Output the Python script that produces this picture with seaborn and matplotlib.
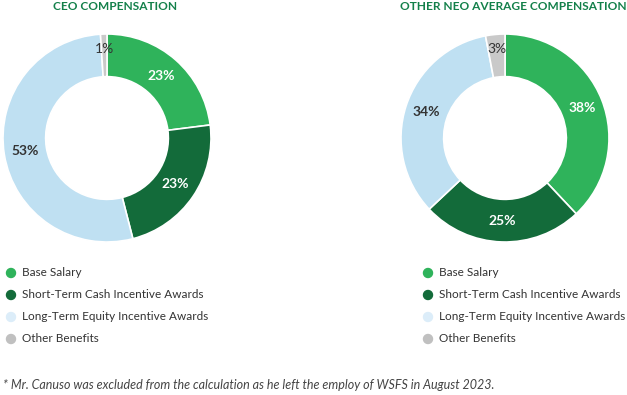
import matplotlib
matplotlib.use("Agg")
import matplotlib.pyplot as plt
import seaborn as sns
import numpy as np

sns.set_theme(style="white")
plt.rcParams['font.family'] = ['Lato', 'DejaVu Sans']

categories = ["Base Salary", "Short-Term Cash Incentive Awards",
              "Long-Term Equity Incentive Awards", "Other Benefits"]
ceo_values = [23, 23, 53, 1]
neo_values = [38, 25, 34, 3]
titles = ["CEO COMPENSATION", "OTHER NEO AVERAGE COMPENSATION"]
footnote = "* Mr. Canuso was excluded from the calculation as he left the employ of WSFS in August 2023."

colors = ["#2fb35b", "#136b3a", "#bfe0f2", "#c9c9c9"]
legend_colors = ["#2fb35b", "#136b3a", "#dcedf9", "#c0c0c0"]
label_colors = ["white", "white", "#333333", "#333333"]

W, H = 627, 395
fig = plt.figure(figsize=(W / 100, H / 100), dpi=100)

def donut(cx, cy, r, values, title, tx):
    ax = fig.add_axes([(cx - r) / W, 1 - (cy + r) / H, 2 * r / W, 2 * r / H])
    wedges, _ = ax.pie(values, colors=colors, startangle=90, counterclock=False,
                       radius=1.0, wedgeprops=dict(width=0.41, edgecolor="white", linewidth=1.2))
    ax.set_xlim(-1, 1); ax.set_ylim(-1, 1); ax.set_aspect("equal")
    ax.axis("off")
    start = 90.0
    total = float(sum(values))
    for v, lc in zip(values, label_colors):
        ang = start - v / total * 360 / 2
        start -= v / total * 360
        rr = 0.795 if v >= 5 else 0.86
        x, y = rr * np.cos(np.radians(ang)), rr * np.sin(np.radians(ang))
        ax.text(x, y, f"{v}%", ha="center", va="center", fontsize=10,
                fontweight="bold" if v >= 5 else "normal",
                color=lc)
    fig.text(tx / W, 1 - 6 / H, title, ha="center", va="center", fontsize=8.6,
             fontweight="bold", color="#13804a")

donut(107, 138, 104, ceo_values, titles[0], 115)
donut(505, 138, 104, neo_values, titles[1], 513)

def legend(x0):
    for i, (c, lab) in enumerate(zip(legend_colors, categories)):
        y = 273 + i * 22
        fig.patches.append(matplotlib.patches.Ellipse((x0 / W, 1 - y / H), 9 / W, 9 / H,
                                                      transform=fig.transFigure, color=c))
        fig.text((x0 + 11) / W, 1 - y / H, lab, ha="left", va="center",
                 fontsize=8.5, color="#333333")

legend(11)
legend(428)

fig.text(3 / W, 1 - 385 / H, footnote, ha="left", va="center", fontsize=9,
         style="italic", color="#444444")

fig.savefig("out.png", dpi=100, facecolor="white")
